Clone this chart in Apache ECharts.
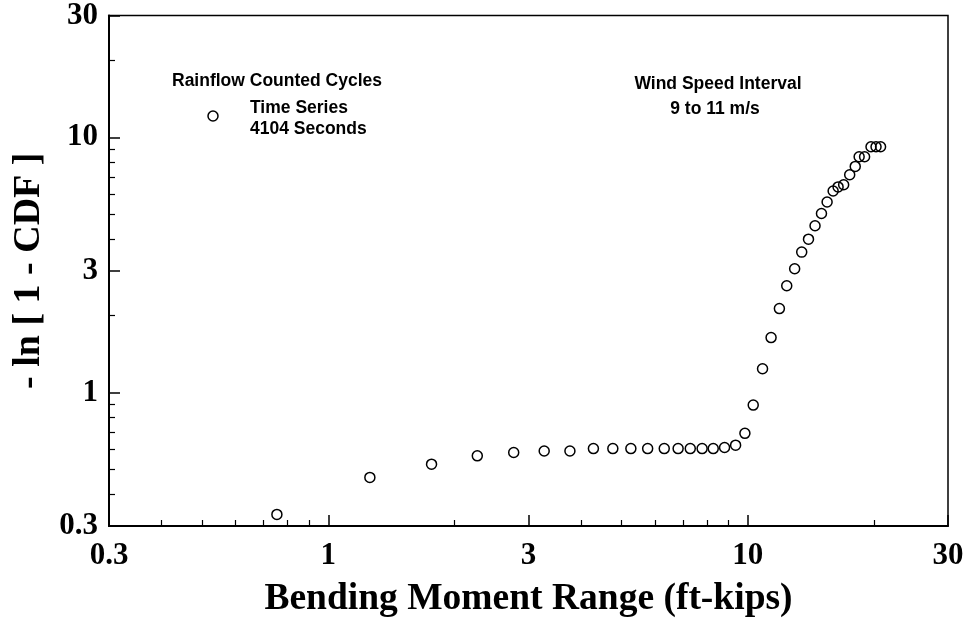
<!DOCTYPE html>
<html>
<head>
<meta charset="utf-8">
<script src="https://cdn.jsdelivr.net/npm/echarts@6/dist/echarts.min.js"></script>
<style>
html,body{margin:0;padding:0;background:#fff;}
#chart{width:968px;height:626px;}
</style>
</head>
<body>
<div id="chart"></div>
<script>
// Bending moment range (ft-kips)
const momentRange = [
  0.754, 1.256, 1.762, 2.265, 2.766, 3.27, 3.766, 4.284, 4.766, 5.262,
  5.77, 6.32, 6.82, 7.29, 7.78, 8.27, 8.80, 9.35, 9.84, 10.30,
  10.84, 11.36, 11.89, 12.38, 12.93, 13.44, 13.95, 14.46, 14.98, 15.45,
  15.97, 16.41, 16.92, 17.49, 18.03, 18.42, 18.98, 19.66, 20.21, 20.72
];
// -ln[1 - CDF]
const negLnSurvival = [
  0.333, 0.465, 0.524, 0.565, 0.582, 0.590, 0.590, 0.603, 0.603, 0.603,
  0.603, 0.603, 0.603, 0.603, 0.603, 0.603, 0.609, 0.622, 0.692, 0.893,
  1.239, 1.642, 2.132, 2.621, 3.054, 3.549, 3.99, 4.50, 5.03, 5.58,
  6.16, 6.39, 6.52, 7.13, 7.69, 8.39, 8.39, 9.18, 9.18, 9.18
];
const majorTicks = [0.3, 1, 3, 10, 30];
const minorTicks = [0.4, 0.5, 0.6, 0.7, 0.8, 0.9, 2, 4, 5, 6, 7, 8, 9, 20];

const serif = '"Liberation Serif","Times New Roman",Times,serif';
const sans = '"Liberation Sans",Arial,Helvetica,sans-serif';

const tickLabelStyle = {
  fontFamily: serif, fontWeight: 'bold', fontSize: 31, color: '#000'
};
const fmt = v => String(Math.round(v * 10) / 10);

function majorAxis(dim) {
  return {
    type: 'log', logBase: 10, min: 0.3, max: 30,
    position: dim === 'x' ? 'bottom' : 'left',
    axisLine: { show: true, onZero: false, lineStyle: { color: '#000', width: 2 } },
    axisTick: { show: true, inside: true, length: 11, customValues: majorTicks,
                lineStyle: { color: '#000', width: 1.5 } },
    axisLabel: Object.assign({
      margin: dim === 'x' ? 14 : 11,
      padding: dim === 'x' ? 0 : [6, 0, 0, 0],
      customValues: majorTicks, formatter: fmt
    }, tickLabelStyle),
    splitLine: { show: false },
    minorTick: { show: false }
  };
}
function minorAxis(dim) {
  return {
    type: 'log', logBase: 10, min: 0.3, max: 30,
    position: dim === 'x' ? 'bottom' : 'left',
    offset: 0,
    axisLine: { show: false },
    axisTick: { show: true, inside: true, length: 6, customValues: minorTicks,
                lineStyle: { color: '#000', width: 1.2 } },
    axisLabel: { show: false },
    splitLine: { show: false }
  };
}

const xMajor = majorAxis('x');
xMajor.name = 'Bending Moment Range (ft-kips)';
xMajor.nameLocation = 'middle';
xMajor.nameGap = 54;
xMajor.nameTextStyle = { fontFamily: serif, fontWeight: 'bold', fontSize: 37.5, color: '#000' };

const yMajor = majorAxis('y');
yMajor.name = '- ln [ 1 - CDF ]';
yMajor.nameLocation = 'middle';
yMajor.nameGap = 58;
yMajor.nameTextStyle = { fontFamily: serif, fontWeight: 'bold', fontSize: 38, color: '#000' };

const points = momentRange.map((x, i) => [x, negLnSurvival[i]]);

const chart = echarts.init(document.getElementById('chart'), null, { renderer: 'canvas' });
chart.setOption({
  animation: false,
  backgroundColor: '#fff',
  grid: {
    left: 109, right: 20, top: 15, bottom: 100,
    show: true, borderColor: '#000', borderWidth: 1.5, backgroundColor: 'transparent'
  },
  xAxis: [xMajor, minorAxis('x')],
  yAxis: [yMajor, minorAxis('y')],
  series: [{
    name: 'Time Series',
    type: 'scatter',
    xAxisIndex: 0, yAxisIndex: 0,
    symbol: 'circle',
    symbolSize: 10,
    data: points,
    itemStyle: { color: 'rgba(0,0,0,0)', borderColor: '#000', borderWidth: 1.5, opacity: 1 },
    emphasis: { disabled: true }
  }],
  graphic: [
    { type: 'text', x: 277, y: 81,
      style: { text: 'Rainflow Counted Cycles', font: 'bold 17.5px ' + sans, fill: '#000', align: 'center', verticalAlign: 'middle' } },
    { type: 'circle', shape: { cx: 213, cy: 116, r: 5 },
      style: { fill: 'none', stroke: '#000', lineWidth: 1.5 } },
    { type: 'text', x: 250, y: 108,
      style: { text: 'Time Series', font: 'bold 17.5px ' + sans, fill: '#000', align: 'left', verticalAlign: 'middle' } },
    { type: 'text', x: 250, y: 129,
      style: { text: '4104 Seconds', font: 'bold 17.5px ' + sans, fill: '#000', align: 'left', verticalAlign: 'middle' } },
    { type: 'text', x: 718, y: 84,
      style: { text: 'Wind Speed Interval', font: 'bold 17.5px ' + sans, fill: '#000', align: 'center', verticalAlign: 'middle' } },
    { type: 'text', x: 715, y: 109,
      style: { text: '9 to 11 m/s', font: 'bold 17.5px ' + sans, fill: '#000', align: 'center', verticalAlign: 'middle' } }
  ]
});
</script>
</body>
</html>
